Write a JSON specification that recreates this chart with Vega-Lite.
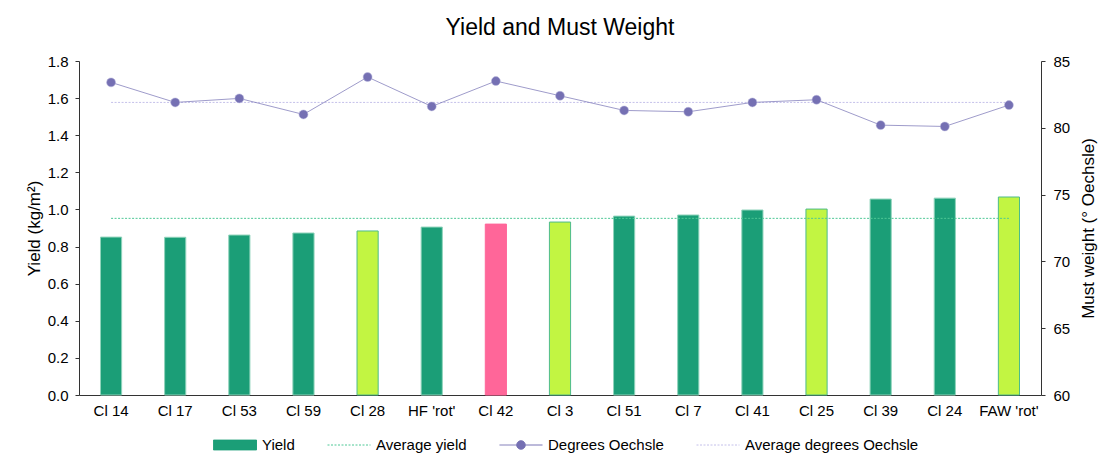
{
  "$schema": "https://vega.github.io/schema/vega-lite/v6.json",
  "width": 962,
  "height": 334,
  "autosize": {"type": "none"},
  "padding": {"left": 79, "top": 61, "right": 75, "bottom": 74},
  "title": {"text": "Yield and Must Weight", "fontSize": 23, "font": "Liberation Sans", "fontWeight": "normal", "color": "#000", "offset": 14, "anchor": "middle"},
  "config": {
    "view": {"stroke": null},
    "axis": {"grid": false, "labelFont": "Liberation Sans", "titleFont": "Liberation Sans", "labelFontSize": 15, "titleFontSize": 17, "titleFontWeight": "normal", "labelColor": "#000", "titleColor": "#000", "domainColor": "#333", "tickColor": "#333", "tickSize": 4}
  },
  "data": {"values": [
    {"variety": "Cl 14", "yield": 0.851, "oechsle": 83.4, "kind": "main", "avgYield": 0.952, "avgOechsle": 81.9},
    {"variety": "Cl 17", "yield": 0.850, "oechsle": 81.9, "kind": "main", "avgYield": 0.952, "avgOechsle": 81.9},
    {"variety": "Cl 53", "yield": 0.862, "oechsle": 82.2, "kind": "main", "avgYield": 0.952, "avgOechsle": 81.9},
    {"variety": "Cl 59", "yield": 0.873, "oechsle": 81.0, "kind": "main", "avgYield": 0.952, "avgOechsle": 81.9},
    {"variety": "Cl 28", "yield": 0.884, "oechsle": 83.8, "kind": "hybrid", "avgYield": 0.952, "avgOechsle": 81.9},
    {"variety": "HF 'rot'", "yield": 0.905, "oechsle": 81.6, "kind": "main", "avgYield": 0.952, "avgOechsle": 81.9},
    {"variety": "Cl 42", "yield": 0.921, "oechsle": 83.5, "kind": "red", "avgYield": 0.952, "avgOechsle": 81.9},
    {"variety": "Cl 3", "yield": 0.932, "oechsle": 82.4, "kind": "hybrid", "avgYield": 0.952, "avgOechsle": 81.9},
    {"variety": "Cl 51", "yield": 0.964, "oechsle": 81.3, "kind": "main", "avgYield": 0.952, "avgOechsle": 81.9},
    {"variety": "Cl 7", "yield": 0.970, "oechsle": 81.2, "kind": "main", "avgYield": 0.952, "avgOechsle": 81.9},
    {"variety": "Cl 41", "yield": 0.997, "oechsle": 81.9, "kind": "main", "avgYield": 0.952, "avgOechsle": 81.9},
    {"variety": "Cl 25", "yield": 1.002, "oechsle": 82.1, "kind": "hybrid", "avgYield": 0.952, "avgOechsle": 81.9},
    {"variety": "Cl 39", "yield": 1.056, "oechsle": 80.2, "kind": "main", "avgYield": 0.952, "avgOechsle": 81.9},
    {"variety": "Cl 24", "yield": 1.061, "oechsle": 80.1, "kind": "main", "avgYield": 0.952, "avgOechsle": 81.9},
    {"variety": "FAW 'rot'", "yield": 1.067, "oechsle": 81.7, "kind": "hybrid", "avgYield": 0.952, "avgOechsle": 81.9}
  ]},
  "encoding": {
    "x": {"field": "variety", "type": "nominal", "sort": null, "scale": {"paddingInner": 0, "paddingOuter": 0}, "axis": {"title": null, "labelAngle": 0, "ticks": false, "labelPadding": 8}}
  },
  "layer": [
    {
      "layer": [
        {
          "mark": {"type": "bar", "width": {"band": 0.33}, "strokeWidth": 1},
          "encoding": {
            "y": {"field": "yield", "type": "quantitative", "scale": {"domain": [0, 1.8]}, "axis": {"title": "Yield (kg/m²)", "orient": "left", "values": [0, 0.2, 0.4, 0.6, 0.8, 1.0, 1.2, 1.4, 1.6, 1.8], "format": ".1f", "titlePadding": 4, "labelPadding": 7}},
            "fill": {"field": "kind", "type": "nominal", "scale": {"domain": ["main", "hybrid", "red"], "range": ["#1b9e77", "#c2f542", "#ff6699"]}, "legend": null},
            "stroke": {"field": "kind", "type": "nominal", "scale": {"domain": ["main", "hybrid", "red"], "range": ["#8fd3bb", "#4dbb8b", "#ff6699"]}, "legend": null}
          }
        },
        {
          "mark": {"type": "line", "strokeDash": [2, 1.5], "strokeWidth": 1},
          "encoding": {
            "y": {"field": "avgYield", "type": "quantitative", "scale": {"domain": [0, 1.8]}, "axis": {"title": "Yield (kg/m²)", "orient": "left", "values": [0, 0.2, 0.4, 0.6, 0.8, 1.0, 1.2, 1.4, 1.6, 1.8], "format": ".1f", "titlePadding": 4, "labelPadding": 7}},
            "color": {
              "datum": "Average yield",
              "type": "nominal",
              "scale": {"domain": ["Yield", "Average yield", "Degrees Oechsle", "Average degrees Oechsle"], "range": ["#1b9e77", "#4fc896", "#7570b3", "#c4c0ea"]},
              "legend": {
                "title": null, "orient": "none", "legendX": 134, "legendY": 362, "direction": "horizontal",
                "symbolSize": 1849, "labelFontSize": 15, "labelFont": "Liberation Sans", "labelColor": "#000", "labelOffset": 5, "columnPadding": 30, "symbolStrokeWidth": 1, "labelLimit": 400,
                "encode": {"symbols": {"update": {
                  "shape": {"signal": "datum.value === 'Yield' ? 'M-1,-0.23H1V0.23H-1Z' : datum.value === 'Degrees Oechsle' ? 'M-1,0H-0.2A0.2,0.2,0,1,1,0.2,0H1M-0.2,0A0.2,0.2,0,1,0,0.2,0' : 'M-1,0H1'"},
                  "fill": {"signal": "datum.value === 'Yield' ? '#1b9e77' : datum.value === 'Degrees Oechsle' ? '#7570b3' : 'transparent'"},
                  "stroke": {"signal": "datum.value === 'Yield' ? '#1b9e77' : datum.value === 'Degrees Oechsle' ? '#9b97d1' : datum.value === 'Average yield' ? '#4fc896' : '#c4c0ea'"},
                  "strokeDash": {"signal": "indexof(datum.value, 'Average') === 0 ? [2, 1.5] : [1, 0]"},
                  "opacity": {"value": 1}
                }}}
              }
            }
          }
        }
      ]
    },
    {
      "layer": [
        {
          "mark": {"type": "line", "strokeDash": [2, 1.5], "strokeWidth": 1},
          "encoding": {
            "y": {"field": "avgOechsle", "type": "quantitative", "scale": {"domain": [60, 85]}, "axis": {"title": "Must weight (° Oechsle)", "orient": "right", "values": [60, 65, 70, 75, 80, 85], "titlePadding": 28, "titleAngle": 270, "labelPadding": 8}},
            "color": {"datum": "Average degrees Oechsle", "type": "nominal"}
          }
        },
        {
          "mark": {"type": "line", "strokeWidth": 1, "opacity": 0.7},
          "encoding": {
            "y": {"field": "oechsle", "type": "quantitative", "scale": {"domain": [60, 85]}, "axis": {"title": "Must weight (° Oechsle)", "orient": "right", "values": [60, 65, 70, 75, 80, 85], "titlePadding": 28, "titleAngle": 270, "labelPadding": 8}},
            "color": {"datum": "Degrees Oechsle", "type": "nominal"}
          }
        },
        {
          "mark": {"type": "point", "filled": true, "size": 80, "color": "#7570b3", "opacity": 1, "stroke": "#b9b6dc", "strokeWidth": 0.5},
          "encoding": {
            "y": {"field": "oechsle", "type": "quantitative", "scale": {"domain": [60, 85]}, "axis": {"title": "Must weight (° Oechsle)", "orient": "right", "values": [60, 65, 70, 75, 80, 85], "titlePadding": 28, "titleAngle": 270, "labelPadding": 8}}
          }
        }
      ]
    }
  ],
  "resolve": {"scale": {"y": "independent"}}
}
